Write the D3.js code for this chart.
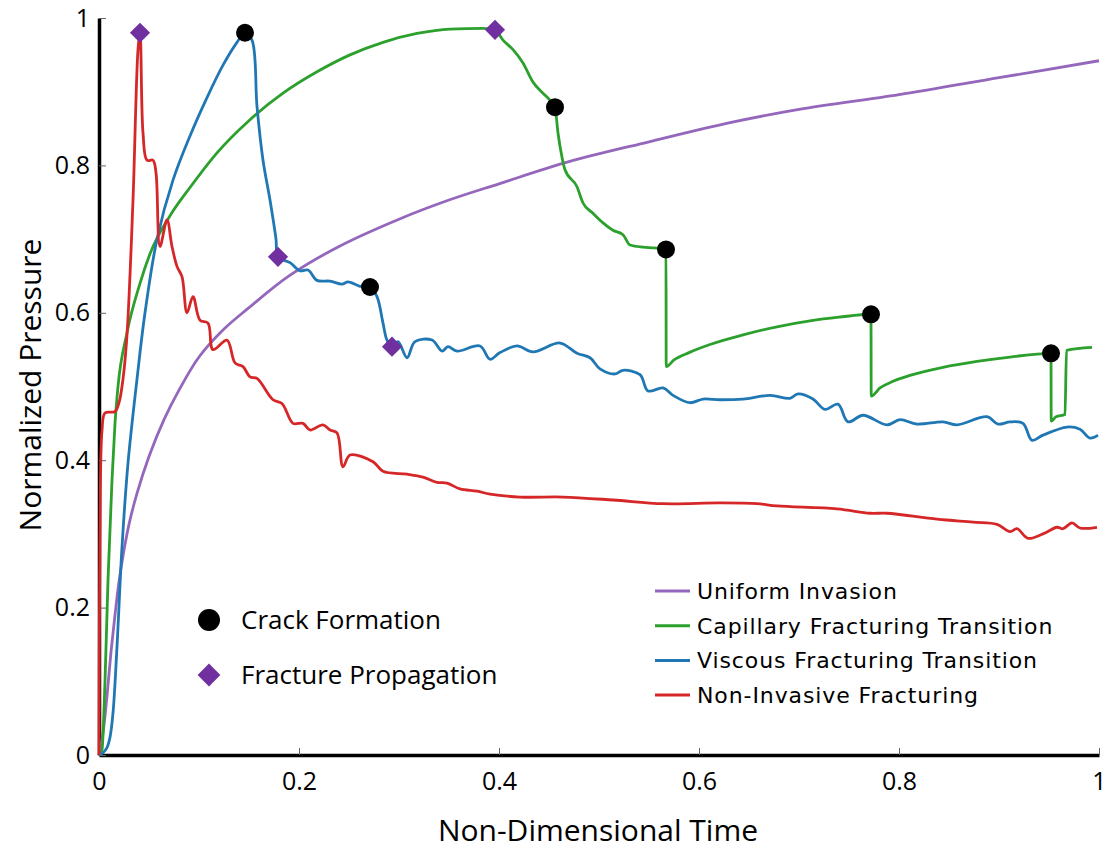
<!DOCTYPE html>
<html>
<head>
<meta charset="utf-8">
<script src="https://cdn.jsdelivr.net/npm/d3@7"></script>
<style>
  body { margin: 0; background: #fff; }
  svg { display: block; }
</style>
</head>
<body>
<svg id="chart" width="1108" height="850"></svg>
<script>
// ---- data (t, normalized pressure) ----
const xTicks = [0, 0.2, 0.4, 0.6, 0.8, 1];
const xTickLabels = ["0", "0.2", "0.4", "0.6", "0.8", "1"];
const yTicks = [0, 0.2, 0.4, 0.6, 0.8, 1];
const yTickLabels = ["0", "0.2", "0.4", "0.6", "0.8", "1"];

const seriesNames = ["Uniform Invasion", "Capillary Fracturing Transition", "Viscous Fracturing Transition", "Non-Invasive Fracturing"];
const seriesColors = ["#9467bd", "#2ca02c", "#1f77b4", "#d62728"];

const uniformInvasion = [
  [0,0],[0.004,0.03],[0.008,0.08],[0.012,0.14],[0.016,0.19],[0.02,0.235],[0.025,0.278],
  [0.03,0.313],[0.038,0.355],[0.05,0.405],[0.065,0.455],[0.08,0.495],[0.1,0.54],
  [0.125,0.578],[0.15,0.607],[0.19,0.65],[0.24,0.69],[0.3,0.727],[0.35,0.753],
  [0.4,0.775],[0.47,0.805],[0.55,0.832],[0.631,0.858],[0.7,0.876],[0.8,0.896],
  [0.9,0.919],[1,0.942]
];

const capillaryFracturing = [
  [0,0],[0.003,0.007],[0.006,0.1],[0.009,0.237],[0.013,0.373],[0.016,0.45],[0.019,0.5],
  [0.028,0.573],[0.041,0.64],[0.051,0.68],[0.074,0.738],[0.091,0.77],[0.118,0.817],
  [0.151,0.862],[0.184,0.898],[0.218,0.927],[0.251,0.95],[0.284,0.967],[0.318,0.979],
  [0.351,0.985],[0.384,0.986],[0.396,0.984],[0.404,0.97],[0.414,0.957],[0.424,0.939],
  [0.434,0.913],[0.444,0.898],[0.45,0.89],[0.456,0.879],[0.459,0.844],[0.463,0.811],
  [0.466,0.794],[0.478,0.771],[0.484,0.749],[0.494,0.735],[0.504,0.722],[0.514,0.712],
  [0.524,0.706],[0.531,0.692],[0.544,0.689],[0.555,0.688],[0.567,0.686],
  [0.5672,0.527],[0.575,0.536],[0.59,0.546],[0.611,0.557],[0.644,0.57],[0.678,0.581],
  [0.711,0.589],[0.74,0.594],[0.772,0.598],
  [0.7722,0.487],[0.781,0.498],[0.794,0.507],[0.811,0.515],[0.844,0.526],[0.878,0.534],
  [0.911,0.54],[0.952,0.545],
  [0.9522,0.453],[0.957,0.459],[0.966,0.462],[0.9675,0.549],[0.993,0.553]
];

const viscousFracturing = [
  [0,0],[0.004,0.003],[0.008,0.01],[0.011,0.024],[0.014,0.057],[0.018,0.147],[0.023,0.282],
  [0.029,0.396],[0.038,0.51],[0.046,0.6],[0.058,0.7],[0.074,0.78],[0.091,0.84],
  [0.108,0.892],[0.124,0.936],[0.138,0.967],[0.146,0.98],[0.153,0.97],[0.158,0.88],
  [0.164,0.807],[0.171,0.753],[0.177,0.7],[0.179,0.676],[0.191,0.668],[0.201,0.657],
  [0.209,0.658],[0.218,0.644],[0.231,0.643],[0.243,0.639],[0.249,0.642],[0.261,0.636],
  [0.271,0.635],[0.278,0.622],[0.284,0.586],[0.288,0.563],[0.293,0.554],[0.299,0.561],
  [0.308,0.539],[0.316,0.561],[0.333,0.563],[0.343,0.548],[0.349,0.554],[0.358,0.548],
  [0.381,0.555],[0.391,0.537],[0.401,0.546],[0.418,0.555],[0.434,0.547],[0.461,0.559],
  [0.478,0.545],[0.491,0.539],[0.501,0.524],[0.516,0.517],[0.524,0.522],[0.541,0.516],
  [0.549,0.494],[0.564,0.498],[0.574,0.488],[0.591,0.478],[0.604,0.483],[0.621,0.482],
  [0.644,0.483],[0.671,0.488],[0.691,0.484],[0.699,0.49],[0.714,0.483],[0.726,0.469],
  [0.739,0.476],[0.749,0.452],[0.764,0.461],[0.788,0.448],[0.801,0.455],[0.818,0.449],
  [0.844,0.452],[0.858,0.448],[0.888,0.459],[0.899,0.449],[0.911,0.452],[0.924,0.45],
  [0.933,0.427],[0.944,0.434],[0.968,0.445],[0.981,0.442],[0.991,0.43],[0.999,0.434]
];

const nonInvasiveFracturing = [
  [0,0],[0.001,0.3],[0.003,0.44],[0.006,0.464],[0.016,0.466],[0.02,0.478],[0.024,0.51],
  [0.028,0.57],[0.034,0.753],[0.039,0.957],[0.041,0.98],[0.044,0.844],[0.048,0.807],
  [0.054,0.807],[0.057,0.79],[0.061,0.69],[0.068,0.726],[0.073,0.69],[0.078,0.663],
  [0.083,0.649],[0.088,0.6],[0.094,0.622],[0.101,0.59],[0.109,0.586],[0.114,0.55],
  [0.128,0.563],[0.136,0.532],[0.144,0.527],[0.151,0.513],[0.158,0.511],[0.174,0.482],
  [0.183,0.477],[0.194,0.45],[0.204,0.45],[0.211,0.441],[0.224,0.448],[0.231,0.441],
  [0.238,0.437],[0.244,0.391],[0.251,0.407],[0.274,0.398],[0.284,0.385],[0.308,0.381],
  [0.324,0.377],[0.338,0.37],[0.348,0.369],[0.361,0.361],[0.378,0.358],[0.391,0.354],
  [0.421,0.35],[0.464,0.35],[0.514,0.346],[0.564,0.341],[0.621,0.342],[0.658,0.341],
  [0.678,0.338],[0.738,0.334],[0.771,0.328],[0.788,0.328],[0.838,0.32],[0.874,0.316],
  [0.898,0.313],[0.911,0.303],[0.918,0.307],[0.929,0.294],[0.944,0.3],[0.958,0.309],
  [0.964,0.307],[0.973,0.315],[0.981,0.308],[0.998,0.309]
];

const crackFormation = [
  [0.146,0.98],[0.271,0.635],[0.456,0.879],[0.567,0.686],[0.772,0.598],[0.952,0.545]
];
const fracturePropagation = [
  [0.041,0.98],[0.179,0.676],[0.293,0.554],[0.396,0.984]
];

const markerLegend = ["Crack Formation", "Fracture Propagation"];
const xTitle = "Non-Dimensional Time";
const yTitle = "Normalized Pressure";

// ---- drawing ----
const svg = d3.select("#chart");
const x = d3.scaleLinear().domain([0, 1]).range([99, 1099]);
const y = d3.scaleLinear().domain([0, 1]).range([755, 18]);

const tickFont = "'Open Sans', 'Noto Sans', sans-serif";

// lines (drawn under the axes' domain lines? no: axes drawn first like reference)
const gx = svg.append("g").attr("transform", "translate(0,755)")
  .call(d3.axisBottom(x).tickValues(xTicks).tickFormat((d, i) => xTickLabels[i])
    .tickSizeInner(-7).tickSizeOuter(0).tickPadding(17));
const gy = svg.append("g").attr("transform", "translate(99,0)")
  .call(d3.axisLeft(y).tickValues(yTicks).tickFormat((d, i) => yTickLabels[i])
    .tickSizeInner(-7).tickSizeOuter(0).tickPadding(9));

[gx, gy].forEach(g => {
  g.select(".domain").attr("stroke", "#000").attr("stroke-width", 3.5);
  g.selectAll(".tick line").attr("stroke", "#666").attr("stroke-width", 1);
  g.selectAll(".tick text").attr("fill", "#000").style("font-family", tickFont).style("font-size", "25px");
});

const smooth = d3.line().x(d => x(d[0])).y(d => y(d[1])).curve(d3.curveCatmullRom.alpha(0.5));
const mono = d3.line().x(d => x(d[0])).y(d => y(d[1])).curve(d3.curveMonotoneX);
const seriesData = [uniformInvasion, capillaryFracturing, viscousFracturing, nonInvasiveFracturing];
const seriesCurves = [smooth, mono, smooth, smooth];
seriesData.forEach((data, i) => {
  svg.append("path").datum(data)
    .attr("fill", "none")
    .attr("stroke", seriesColors[i])
    .attr("stroke-width", 2.8)
    .attr("stroke-linejoin", "round")
    .attr("d", seriesCurves[i]);
});

// markers
svg.append("g").selectAll("circle").data(crackFormation).join("circle")
  .attr("cx", d => x(d[0])).attr("cy", d => y(d[1])).attr("r", 9).attr("fill", "#000");
const diamond = d3.symbol().type(d3.symbolDiamond2).size(260);
svg.append("g").selectAll("path").data(fracturePropagation).join("path")
  .attr("transform", d => `translate(${x(d[0])},${y(d[1])})`)
  .attr("d", diamond).attr("fill", "#7030a0");

// marker legend
const ml = svg.append("g");
ml.append("circle").attr("cx", 209).attr("cy", 620).attr("r", 11).attr("fill", "#000");
ml.append("path").attr("transform", "translate(209,675)")
  .attr("d", d3.symbol().type(d3.symbolDiamond2).size(330)).attr("fill", "#7030a0");
markerLegend.forEach((t, i) => {
  ml.append("text").attr("x", 241).attr("y", 620 + i * 55).attr("dy", "0.35em")
    .style("font-family", tickFont).style("font-size", "26px").attr("fill", "#000").text(t);
});

// line legend
const ll = svg.append("g");
seriesNames.forEach((name, i) => {
  const yy = 591 + i * 34.7;
  ll.append("line").attr("x1", 655).attr("x2", 690).attr("y1", yy).attr("y2", yy)
    .attr("stroke", seriesColors[i]).attr("stroke-width", 3);
  ll.append("text").attr("x", 697).attr("y", yy).attr("dy", "0.36em")
    .style("font-family", "'DejaVu Sans', Verdana, sans-serif").style("font-size", "22px")
    .style("letter-spacing", "0.9px")
    .attr("fill", "#000").text(name);
});

// axis titles
svg.append("text").attr("x", 598).attr("y", 841).attr("text-anchor", "middle")
  .style("font-family", tickFont).style("font-size", "30px").attr("fill", "#000").text(xTitle);
svg.append("text").attr("transform", "translate(41,385) rotate(-90)").attr("text-anchor", "middle")
  .style("font-family", tickFont).style("font-size", "30px").attr("fill", "#000").text(yTitle);
</script>
</body>
</html>
